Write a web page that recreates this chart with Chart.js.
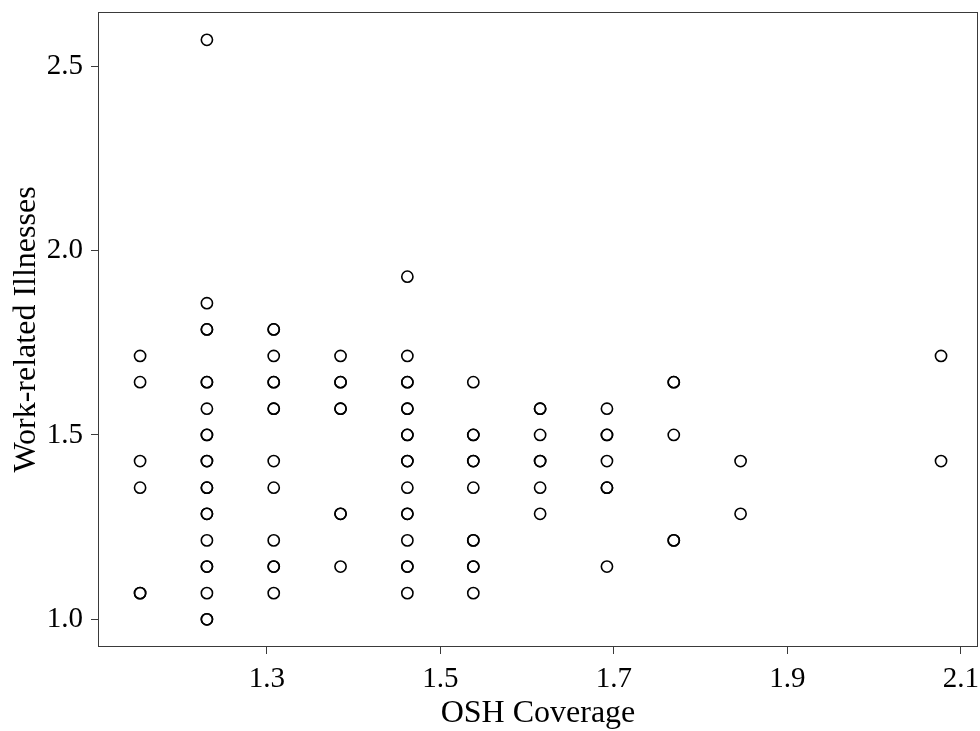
<!DOCTYPE html>
<html>
<head>
<meta charset="utf-8">
<title>OSH Coverage vs Work-related Illnesses</title>
<script src="https://cdn.jsdelivr.net/npm/chart.js@4.4.1/dist/chart.umd.min.js"></script>
<style>
  html, body { margin: 0; padding: 0; background: #fff; }
  #wrap { width: 980px; height: 731px; }
</style>
</head>
<body>
<div id="wrap"><canvas id="scatter" width="980" height="731"></canvas></div>
<script>
  // x positions of the point columns (OSH coverage)
  const oshCoverage = [1.154, 1.231, 1.308, 1.385, 1.462, 1.538, 1.615, 1.692, 1.769, 1.846, 2.077];

  // illness values for each column above (repeats = overlapping circles)
  const illnessesByColumn = [
    [1.714, 1.643, 1.429, 1.357, 1.071, 1.071],
    [2.571, 1.857, 1.786, 1.786, 1.643, 1.643, 1.571, 1.500, 1.500, 1.429, 1.429, 1.357, 1.357, 1.286, 1.286, 1.214, 1.143, 1.143, 1.071, 1.000, 1.000],
    [1.786, 1.786, 1.714, 1.643, 1.643, 1.571, 1.571, 1.429, 1.357, 1.214, 1.143, 1.143, 1.071],
    [1.714, 1.643, 1.643, 1.571, 1.571, 1.286, 1.286, 1.143],
    [1.929, 1.714, 1.643, 1.643, 1.571, 1.571, 1.500, 1.500, 1.429, 1.429, 1.357, 1.286, 1.286, 1.214, 1.143, 1.143, 1.071],
    [1.643, 1.500, 1.500, 1.429, 1.429, 1.357, 1.214, 1.214, 1.143, 1.143, 1.071],
    [1.571, 1.571, 1.500, 1.429, 1.429, 1.357, 1.286],
    [1.571, 1.500, 1.500, 1.429, 1.357, 1.357, 1.143],
    [1.643, 1.643, 1.500, 1.214, 1.214],
    [1.429, 1.286],
    [1.714, 1.429]
  ];

  const xTicks = [1.3, 1.5, 1.7, 1.9, 2.1];
  const yTicks = [1.0, 1.5, 2.0, 2.5];

  const xTitle = 'OSH Coverage';
  const yTitle = 'Work-related Illnesses';

  const axisColor = '#3a3a3a';
  const serif = "'Liberation Serif', 'Times New Roman', serif";

  function buildPoints() {
    const pts = [];
    oshCoverage.forEach((x, i) => {
      illnessesByColumn[i].forEach(y => pts.push({ x: x, y: y }));
    });
    return pts;
  }

  const frameBox = {
    id: 'frameBox',
    afterDraw(chart) {
      const a = chart.chartArea;
      const ctx = chart.ctx;
      ctx.save();
      ctx.strokeStyle = axisColor;
      ctx.lineWidth = 1;
      ctx.strokeRect(Math.round(a.left) + 0.5, Math.round(a.top) + 0.5,
        Math.round(a.right - a.left) - 1, Math.round(a.bottom - a.top) - 1);
      ctx.restore();
    }
  };

  function desenhar() {
    const ctx = document.getElementById('scatter').getContext('2d');
    new Chart(ctx, {
      type: 'scatter',
      data: {
        datasets: [{
          label: yTitle,
          data: buildPoints(),
          pointStyle: 'circle',
          pointRadius: 5.6,
          pointHoverRadius: 5.6,
          pointBorderWidth: 1.6,
          borderColor: '#000',
          backgroundColor: 'rgba(255,255,255,0)'
        }]
      },
      options: {
        responsive: false,
        animation: false,
        layout: { autoPadding: false, padding: { top: 12, right: 2, left: 0, bottom: 0 } },
        plugins: {
          legend: { display: false },
          tooltip: { enabled: false }
        },
        scales: {
          x: {
            type: 'linear',
            min: 1.1055,
            max: 2.1196,
            afterBuildTicks: s => { s.ticks = xTicks.map(v => ({ value: v })); },
            afterFit: s => { s.height = 84; s.paddingLeft = 0; s.paddingRight = 0; },
            border: { display: false },
            grid: { drawOnChartArea: false, drawTicks: true, tickLength: 7, color: axisColor, lineWidth: 1 },
            ticks: {
              color: '#000',
              padding: 8,
              maxRotation: 0,
              font: { family: serif, size: 29 },
              callback: v => Number(v).toFixed(1)
            },
            title: {
              display: true,
              text: xTitle,
              color: '#000',
              font: { family: serif, size: 32, lineHeight: 1 },
              padding: { top: 0, bottom: 1 }
            }
          },
          y: {
            type: 'linear',
            min: 0.925,
            max: 2.6465,
            afterBuildTicks: s => { s.ticks = yTicks.map(v => ({ value: v })); },
            afterFit: s => { s.width = 98; s.paddingTop = 0; s.paddingBottom = 0; },
            border: { display: false },
            grid: { drawOnChartArea: false, drawTicks: true, tickLength: 7, color: axisColor, lineWidth: 1 },
            ticks: {
              color: '#000',
              padding: 8,
              font: { family: serif, size: 29 },
              callback: v => Number(v).toFixed(1)
            },
            title: {
              display: true,
              text: yTitle,
              color: '#000',
              font: { family: serif, size: 32, lineHeight: 1 },
              padding: { top: 11, bottom: 0 }
            }
          }
        }
      },
      plugins: [frameBox]
    });
  }

  window.addEventListener('load', desenhar);
</script>
</body>
</html>
